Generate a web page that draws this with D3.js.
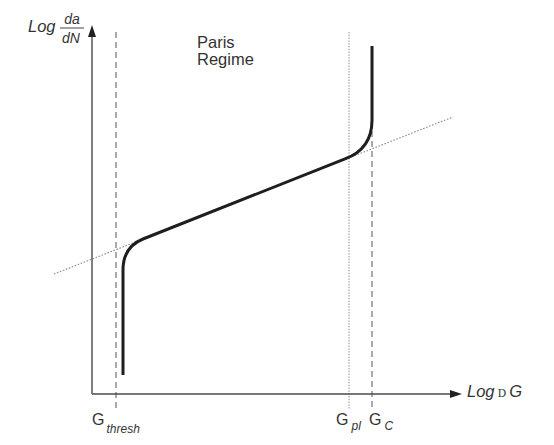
<!DOCTYPE html>
<html>
<head>
<meta charset="utf-8">
<script src="https://cdn.jsdelivr.net/npm/d3@7"></script>
<style>
  html, body { margin: 0; padding: 0; background: #fff; }
  svg { display: block; }
  text { font-family: "Liberation Sans", Arial, sans-serif; fill: #333; }
</style>
</head>
<body>
<div id="chart"></div>
<script>
// ---- Data (log-space units) ----
const xDomain = [0, 10];           // Log ΔG axis extent
const yDomain = [0, 10];           // Log da/dN axis extent

// characteristic values on the x axis
const markerNames  = ["thresh", "pl", "C"];
const markerX      = [0.649, 6.946, 7.568];
const markerTopY   = [9.81, 9.81, 7.40];
const markerBotY   = -0.43;

// Paris law (dotted straight line) end points
const parisX = [-1.03, 9.76];
const parisY = [3.25, 7.51];

// crack growth curve: straight segments joined by rounded knees
// commands: M = move, L = line, Q = quadratic (control, end)
const curveCmd = ["M", "L", "Q", "L", "Q", "L"];
const curveX   = [[0.838], [0.838], [0.838, 1.378], [6.838], [7.568, 7.568], [7.568]];
const curveY   = [[0.515], [3.36], [3.984, 4.201], [6.37], [6.64, 7.425], [9.431]];

const regimeLabel = ["Paris", "Regime"];

// ---- Drawing ----
const W = 554, H = 445;
const svg = d3.select("#chart").append("svg").attr("width", W).attr("height", H);

const x = d3.scaleLinear().domain(xDomain).range([92, 462]);
const y = d3.scaleLinear().domain(yDomain).range([394, 25]);

const axisColor = "#4a4a4a";

// dotted Paris line
svg.append("line")
  .attr("x1", x(parisX[0])).attr("y1", y(parisY[0]))
  .attr("x2", x(parisX[1])).attr("y2", y(parisY[1]))
  .attr("stroke", "#8a8a8a").attr("stroke-width", 1.1)
  .attr("stroke-dasharray", "1.6,1.6");

// vertical marker lines
markerX.forEach((mx, i) => {
  svg.append("line")
    .attr("x1", x(mx)).attr("x2", x(mx))
    .attr("y1", y(markerTopY[i])).attr("y2", y(markerBotY))
    .attr("stroke", i === 1 ? "#777" : "#666")
    .attr("stroke-width", i === 1 ? 0.9 : 1.1)
    .attr("stroke-dasharray", i === 1 ? "1.3,1.5" : "6,4");
});

// axes
svg.append("line")
  .attr("x1", x(0)).attr("y1", y(0)).attr("x2", x(0)).attr("y2", y(10) + 10)
  .attr("stroke", axisColor).attr("stroke-width", 1.4);
svg.append("line")
  .attr("x1", x(0)).attr("y1", y(0)).attr("x2", x(10) - 10).attr("y2", y(0))
  .attr("stroke", axisColor).attr("stroke-width", 1.4);
// arrowheads
svg.append("path")
  .attr("d", `M${x(0)},${y(10)} L${x(0) - 4},${y(10) + 12} L${x(0) + 4},${y(10) + 12} Z`)
  .attr("fill", "#222");
svg.append("path")
  .attr("d", `M${x(10)},${y(0)} L${x(10) - 12},${y(0) - 4} L${x(10) - 12},${y(0) + 4} Z`)
  .attr("fill", "#222");

// crack growth curve
const p = d3.path();
curveCmd.forEach((c, i) => {
  const xs = curveX[i].map(x), ys = curveY[i].map(y);
  if (c === "M") p.moveTo(xs[0], ys[0]);
  else if (c === "L") p.lineTo(xs[0], ys[0]);
  else if (c === "Q") p.quadraticCurveTo(xs[0], ys[0], xs[1], ys[1]);
});
svg.append("path")
  .attr("d", p.toString())
  .attr("fill", "none")
  .attr("stroke", "#1e1e1e")
  .attr("stroke-width", 3)
  .attr("stroke-linejoin", "round");

// Paris Regime label
regimeLabel.forEach((t, i) => {
  svg.append("text")
    .attr("x", 197).attr("y", 48 + i * 17)
    .attr("font-size", 16.5)
    .text(t);
});

// y axis label: Log da/dN
svg.append("text").attr("x", 28).attr("y", 32)
  .attr("font-size", 16.5).attr("font-style", "italic").text("Log");
svg.append("text").attr("x", 72).attr("y", 24)
  .attr("font-size", 14).attr("font-style", "italic").attr("text-anchor", "middle").text("da");
svg.append("line").attr("x1", 60).attr("x2", 84).attr("y1", 28).attr("y2", 28)
  .attr("stroke", "#444").attr("stroke-width", 1);
svg.append("text").attr("x", 71).attr("y", 43)
  .attr("font-size", 14).attr("font-style", "italic").attr("text-anchor", "middle").text("dN");

// x axis label: Log D G
const xl = svg.append("text").attr("x", 467).attr("y", 397).attr("font-size", 16.5);
xl.append("tspan").attr("font-style", "italic").text("Log");
xl.append("tspan").attr("font-family", "DejaVu Serif, serif").attr("font-size", 11).attr("dx", 3).text("D");
xl.append("tspan").attr("font-style", "italic").attr("dx", 3).text("G");

// G labels under x axis
const gLabelOffset = [-24, -13, -3];
markerX.forEach((mx, i) => {
  const t = svg.append("text")
    .attr("x", x(mx) + gLabelOffset[i]).attr("y", 425)
    .attr("font-size", 16);
  t.append("tspan").text("G");
  t.append("tspan").attr("font-size", 12).attr("font-style", "italic")
    .attr("dx", i === 0 ? 2 : 3).attr("dy", i === 0 ? 8 : 5).text(markerNames[i]);
});
</script>
</body>
</html>
